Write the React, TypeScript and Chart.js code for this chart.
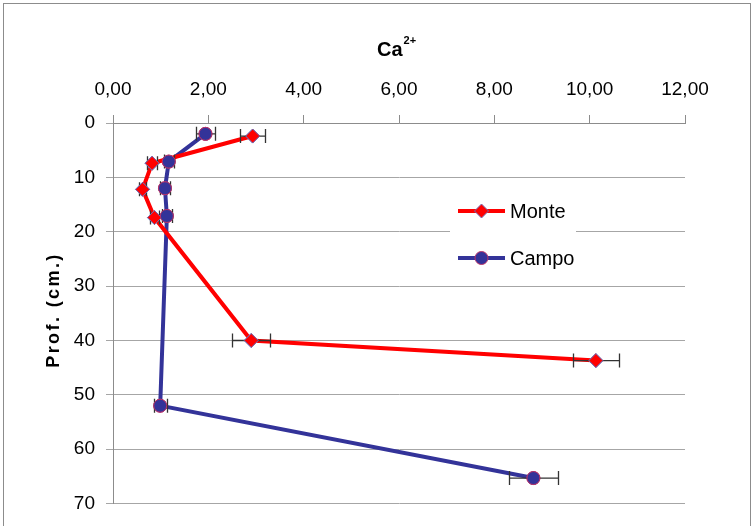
import React, { useEffect, useRef } from 'react';
import { Chart, registerables } from 'chart.js';

Chart.register(...registerables);

// ---- data ----
const seriesNames = ['Monte', 'Campo'];
const monteCa = [2.93, 0.82, 0.62, 0.87, 2.9, 10.13];
const monteDepth = [2.4, 7.4, 12.2, 17.4, 40, 43.7];
const monteErr = [0.26, 0.1, 0.08, 0.1, 0.4, 0.49];
const campoCa = [1.94, 1.17, 1.09, 1.13, 0.99, 8.82];
const campoDepth = [2.0, 7.1, 12.0, 17.1, 52, 65.3];
const campoErr = [0.19, 0.11, 0.1, 0.1, 0.14, 0.51];
const xTickValues = [0, 2, 4, 6, 8, 10, 12];
const yTickValues = [0, 10, 20, 30, 40, 50, 60, 70];
const titleMain = 'Ca';
const titleSup = '2+';
const yTitle = 'Prof. (cm.)';

const FONT = '"Liberation Sans", Arial, sans-serif';
const RED = '#FF0000';
const DIAMOND_BORDER = '#7070B8';
const BLUE = '#333399';
const CIRCLE_BORDER = '#B8336A';
const GRID = '#A6A6A6';
const AXIS = '#8C8C8C';

const errs = [monteErr, campoErr];
const xs = [monteCa, campoCa];

function drawDiamond(ctx: CanvasRenderingContext2D, x: number, y: number, r: number) {
  ctx.beginPath();
  ctx.moveTo(x - r, y);
  ctx.lineTo(x, y - r);
  ctx.lineTo(x + r, y);
  ctx.lineTo(x, y + r);
  ctx.closePath();
  ctx.fillStyle = RED;
  ctx.fill();
  ctx.lineWidth = 1;
  ctx.strokeStyle = DIAMOND_BORDER;
  ctx.stroke();
}
function drawCircle(ctx: CanvasRenderingContext2D, x: number, y: number, r: number) {
  ctx.beginPath();
  ctx.arc(x, y, r, 0, Math.PI * 2);
  ctx.fillStyle = BLUE;
  ctx.fill();
  ctx.lineWidth = 1;
  ctx.strokeStyle = CIRCLE_BORDER;
  ctx.stroke();
}

const decorPlugin = {
  id: 'decor',
  beforeDraw(chart: any) {
    const ctx = chart.ctx as CanvasRenderingContext2D;
    ctx.save();
    ctx.fillStyle = '#fff';
    ctx.fillRect(0, 0, chart.width, chart.height);
    ctx.strokeStyle = AXIS;
    ctx.lineWidth = 1;
    ctx.strokeRect(3.5, 3.5, 747, 600);
    ctx.restore();
  },
  afterDatasetsDraw(chart: any) {
    const ctx = chart.ctx as CanvasRenderingContext2D;
    const xScale = chart.scales.x;
    ctx.save();
    // error bars
    ctx.strokeStyle = '#333333';
    ctx.lineWidth = 1.3;
    for (let d = 0; d < 2; d++) {
      const meta = chart.getDatasetMeta(d);
      meta.data.forEach((pt: any, i: number) => {
        const e = errs[d][i];
        const x1 = Math.round(xScale.getPixelForValue(xs[d][i] - e)) + 0.5;
        const x2 = Math.round(xScale.getPixelForValue(xs[d][i] + e)) + 0.5;
        const y = pt.y;
        ctx.beginPath();
        ctx.moveTo(x1, y);
        ctx.lineTo(x2, y);
        ctx.moveTo(x1, y - 7);
        ctx.lineTo(x1, y + 7);
        ctx.moveTo(x2, y - 7);
        ctx.lineTo(x2, y + 7);
        ctx.stroke();
      });
    }
    // markers on top
    for (let d = 0; d < 2; d++) {
      const meta = chart.getDatasetMeta(d);
      meta.data.forEach((pt: any) => pt.draw(ctx, chart.chartArea));
    }
    ctx.restore();
  },
  afterDraw(chart: any) {
    const ctx = chart.ctx as CanvasRenderingContext2D;
    ctx.save();
    // legend
    ctx.fillStyle = '#fff';
    ctx.fillRect(450, 190, 126, 88);
    const rows = [211, 258];
    rows.forEach((ry, i) => {
      ctx.beginPath();
      ctx.moveTo(458, ry);
      ctx.lineTo(505, ry);
      ctx.lineWidth = 4;
      ctx.strokeStyle = i === 0 ? RED : BLUE;
      ctx.stroke();
      if (i === 0) drawDiamond(ctx, 481.5, ry, 7);
      else drawCircle(ctx, 481.5, ry, 6.5);
      ctx.fillStyle = '#000';
      ctx.font = `20px ${FONT}`;
      ctx.textBaseline = 'middle';
      ctx.textAlign = 'left';
      ctx.fillText(seriesNames[i], 510, ry + 1);
    });
    // title
    ctx.fillStyle = '#000';
    ctx.textBaseline = 'alphabetic';
    ctx.textAlign = 'left';
    ctx.font = `bold 20px ${FONT}`;
    ctx.fillText(titleMain, 377, 56);
    const w = ctx.measureText(titleMain).width;
    ctx.font = `bold 11px ${FONT}`;
    ctx.fillText(titleSup, 377 + w + 1, 44);
    // y title
    ctx.translate(54, 310);
    ctx.rotate(-Math.PI / 2);
    ctx.font = `bold 18px ${FONT}`;
    (ctx as any).letterSpacing = '2.4px';
    ctx.textAlign = 'center';
    ctx.textBaseline = 'middle';
    ctx.fillText(yTitle, 0, 0);
    ctx.restore();
  },
};

export default function App() {
  const ref = useRef<HTMLCanvasElement | null>(null);
  useEffect(() => {
    if (!ref.current) return;
    const chart = new Chart(ref.current, {
      type: 'line',
      data: {
        datasets: [
          {
            label: seriesNames[0],
            data: monteCa.map((v, i) => ({ x: v, y: monteDepth[i] })),
            borderColor: RED,
            backgroundColor: RED,
            borderWidth: 4,
            pointStyle: 'rectRot',
            pointRadius: 7,
            pointBackgroundColor: RED,
            pointBorderColor: DIAMOND_BORDER,
            pointBorderWidth: 1,
            tension: 0,
          },
          {
            label: seriesNames[1],
            data: campoCa.map((v, i) => ({ x: v, y: campoDepth[i] })),
            borderColor: BLUE,
            backgroundColor: BLUE,
            borderWidth: 4,
            pointStyle: 'circle',
            pointRadius: 6.5,
            pointBackgroundColor: BLUE,
            pointBorderColor: CIRCLE_BORDER,
            pointBorderWidth: 1,
            tension: 0,
          },
        ],
      },
      options: {
        responsive: false,
        animation: false,
        layout: { padding: { left: 0, right: 70, top: 0, bottom: 19 } },
        plugins: {
          legend: { display: false },
          title: { display: false },
          tooltip: { enabled: false },
        },
        scales: {
          x: {
            type: 'linear',
            position: 'top',
            min: 0,
            max: 12,
            afterBuildTicks: (s: any) => {
              s.ticks = xTickValues.map((v) => ({ value: v }));
            },
            afterFit: (s: any) => {
              s.height = 123;
            },
            ticks: {
              font: { family: FONT, size: 19 },
              color: '#000',
              padding: 14,
              maxRotation: 0,
              callback: (v: any) => Number(v).toFixed(2).replace('.', ','),
            },
            grid: { drawOnChartArea: false, drawTicks: true, tickLength: 8, color: AXIS },
            border: { color: AXIS },
          },
          y: {
            type: 'linear',
            reverse: true,
            min: 0,
            max: 70,
            afterBuildTicks: (s: any) => {
              s.ticks = yTickValues.map((v) => ({ value: v }));
            },
            afterFit: (s: any) => {
              s.width = 113;
            },
            ticks: {
              font: { family: FONT, size: 19 },
              color: '#000',
              padding: 11,
            },
            grid: { color: GRID, tickLength: 7 },
            border: { color: AXIS },
          },
        },
      },
      plugins: [decorPlugin],
    } as any);
    return () => chart.destroy();
  }, []);
  return (
    <div style={{ position: 'fixed', left: 0, top: 0, width: 755, height: 526, background: '#fff' }}>
      <canvas ref={ref} width={755} height={526} style={{ display: 'block', width: 755, height: 526 }} />
    </div>
  );
}
